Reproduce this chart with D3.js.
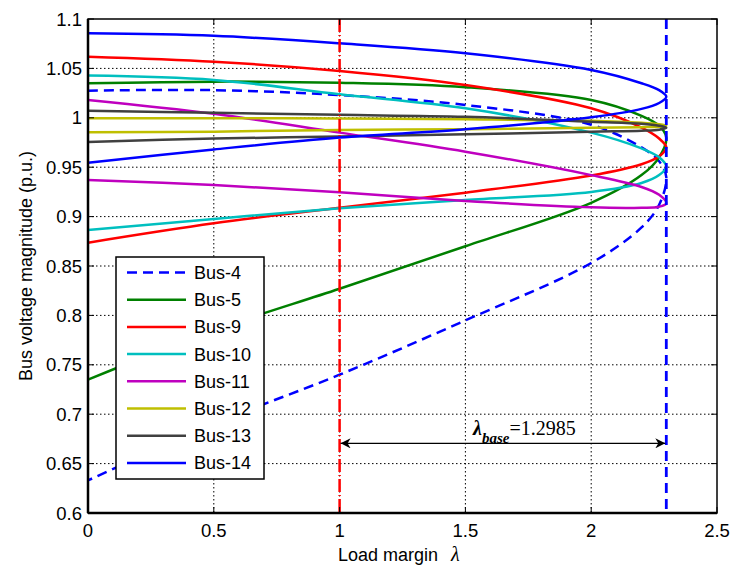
<!DOCTYPE html>
<html>
<head>
<script src="https://d3js.org/d3.v7.min.js"></script>
<style>
  body { margin: 0; background: #fff; }
  text { font-family: "Liberation Sans", Arial, sans-serif; fill: #000; }
  .grid line { stroke: #000; stroke-width: 1; stroke-dasharray: 1.5,2.5; }
  .bus { fill: none; stroke-width: 2.5; }
</style>
</head>
<body>
<script>
// lambda sample points on each branch, nose at lambdaMax
var lambdas = [0, 0.5, 1, 1.5, 2, 2.2, 2.27];
var lambdaMax = 2.2985;
var lambdaBase = 1.2985;

var busNames = ["Bus-4", "Bus-5", "Bus-9", "Bus-10", "Bus-11", "Bus-12", "Bus-13", "Bus-14"];
var busColors = ["#0000ff", "#008000", "#ff0000", "#00bfbf", "#bf00bf", "#bfbf00", "#404040", "#0000ff"];
var busDashed = [true, false, false, false, false, false, false, false];

var upper = [
  [1.0275, 1.028, 1.023, 1.013, 0.993, 0.970, 0.956],
  [1.0349, 1.0366, 1.0355, 1.031, 1.018, 1.002, 0.992],
  [1.0619, 1.0568, 1.0474, 1.0332, 1.0096, 0.990, 0.979],
  [1.0427, 1.0383, 1.0238, 1.0096, 0.985, 0.969, 0.960],
  [1.018, 1.004, 0.985, 0.9657, 0.942, 0.930, 0.922],
  [0.9995, 0.9995, 0.9993, 0.9985, 0.997, 0.995, 0.9935],
  [1.0072, 1.005, 1.003, 1.001, 0.996, 0.994, 0.992],
  [1.0855, 1.083, 1.0754, 1.0653, 1.0484, 1.035, 1.028]
];
var nose = [0.940, 0.980, 0.970, 0.9505, 0.9134, 0.992, 0.990, 1.0214];
var lower = [
  [0.633, 0.690, 0.740, 0.795, 0.853, 0.889, 0.912],
  [0.735, 0.785, 0.827, 0.870, 0.914, 0.942, 0.960],
  [0.8736, 0.8932, 0.909, 0.9242, 0.9416, 0.953, 0.961],
  [0.8864, 0.8976, 0.9084, 0.9168, 0.925, 0.934, 0.942],
  [0.937, 0.932, 0.9246, 0.9158, 0.9094, 0.909, 0.910],
  [0.9853, 0.986, 0.9877, 0.9884, 0.990, 0.9905, 0.991],
  [0.9755, 0.979, 0.981, 0.9833, 0.986, 0.987, 0.988],
  [0.9546, 0.968, 0.980, 0.9884, 1.0005, 1.009, 1.015]
];

var xTicks = [0, 0.5, 1, 1.5, 2, 2.5];
var yTicks = [0.6, 0.65, 0.7, 0.75, 0.8, 0.85, 0.9, 0.95, 1, 1.05, 1.1];

var margin = {left: 88, top: 19};
var width = 629, height = 494;

var svg = d3.select("body").append("svg").attr("width", 730).attr("height", 568);
var g = svg.append("g").attr("transform", "translate(" + margin.left + "," + margin.top + ")");

var x = d3.scaleLinear().domain([0, 2.5]).range([0, width]);
var y = d3.scaleLinear().domain([0.6, 1.1]).range([height, 0]);

// grid
var grid = g.append("g").attr("class", "grid");
grid.selectAll(".gx").data(xTicks.slice(1, -1)).enter().append("line")
  .attr("x1", d => x(d)).attr("x2", d => x(d)).attr("y1", 0).attr("y2", height);
grid.selectAll(".gy").data(yTicks.slice(1, -1)).enter().append("line")
  .attr("y1", d => y(d)).attr("y2", d => y(d)).attr("x1", 0).attr("x2", width);

// curves
var line = d3.line().x(d => x(d[0])).y(d => y(d[1])).curve(d3.curveCatmullRom.alpha(0.5));
busNames.forEach(function(name, i) {
  var pts = lambdas.map((l, j) => [l, upper[i][j]]);
  pts.push([lambdaMax, nose[i]]);
  for (var j = lambdas.length - 1; j >= 0; j--) pts.push([lambdas[j], lower[i][j]]);
  g.append("path").attr("class", "bus").attr("d", line(pts))
    .attr("stroke", busColors[i])
    .attr("stroke-dasharray", busDashed[i] ? "10,6" : null);
});

// vertical markers
g.append("line").attr("x1", x(1)).attr("x2", x(1)).attr("y1", 0).attr("y2", height)
  .attr("stroke", "#ff0000").attr("stroke-width", 2.5).attr("stroke-dasharray", "13,3,1,3");
g.append("line").attr("x1", x(lambdaMax)).attr("x2", x(lambdaMax)).attr("y1", 0).attr("y2", height)
  .attr("stroke", "#0000ff").attr("stroke-width", 2.8).attr("stroke-dasharray", "10,6");

// double arrow
var defs = svg.append("defs");
defs.append("marker").attr("id", "ah").attr("viewBox", "0 0 10 10").attr("refX", 10).attr("refY", 5)
  .attr("markerWidth", 15).attr("markerHeight", 10).attr("markerUnits", "userSpaceOnUse")
  .attr("orient", "auto-start-reverse")
  .append("path").attr("d", "M0,0 L10,5 L0,10 L3,5 Z").attr("fill", "#000");
var ay = y(0.6705);
g.append("line").attr("x1", x(1) + 1).attr("x2", x(lambdaMax) - 1).attr("y1", ay).attr("y2", ay)
  .attr("stroke", "#000").attr("stroke-width", 1.2)
  .attr("marker-start", "url(#ah)").attr("marker-end", "url(#ah)");
var lab = svg.append("text").attr("x", 473).attr("y", margin.top + ay - 8)
  .style("font-family", "'Liberation Serif', 'Times New Roman', serif")
  .style("font-size", "20px");
lab.append("tspan").text("\u03bb").style("font-weight", "bold").style("font-style", "italic");
lab.append("tspan").text("base").attr("dy", 8).style("font-size", "15px")
  .style("font-weight", "bold").style("font-style", "italic");
lab.append("tspan").text("=" + lambdaBase).attr("dy", -8);

// axes box with inward ticks
var axisG = g.append("g");
axisG.append("rect").attr("x", 0).attr("y", 0).attr("width", width).attr("height", height)
  .attr("fill", "none").attr("stroke", "#000").attr("stroke-width", 1.5);
axisG.append("line").attr("x1", 0).attr("x2", 0).attr("y1", 0).attr("y2", height).attr("stroke", "#000").attr("stroke-width", 2.5);
axisG.append("line").attr("x1", 0).attr("x2", width).attr("y1", height).attr("y2", height).attr("stroke", "#000").attr("stroke-width", 2.5);
xTicks.forEach(function(t) {
  axisG.append("line").attr("x1", x(t)).attr("x2", x(t)).attr("y1", height).attr("y2", height - 6).attr("stroke", "#000");
  axisG.append("line").attr("x1", x(t)).attr("x2", x(t)).attr("y1", 0).attr("y2", 6).attr("stroke", "#000");
  axisG.append("text").attr("x", x(t)).attr("y", height + 24).attr("text-anchor", "middle")
    .style("font-size", "18.5px").text(t);
});
yTicks.forEach(function(t) {
  axisG.append("line").attr("x1", 0).attr("x2", 6).attr("y1", y(t)).attr("y2", y(t)).attr("stroke", "#000");
  axisG.append("line").attr("x1", width).attr("x2", width - 6).attr("y1", y(t)).attr("y2", y(t)).attr("stroke", "#000");
  axisG.append("text").attr("x", -6).attr("y", y(t)).attr("dy", "0.36em").attr("text-anchor", "end")
    .style("font-size", "18.5px").text(t);
});

// axis labels
var xl = svg.append("text").attr("x", 338).attr("y", 561).style("font-size", "18px");
xl.append("tspan").text("Load margin");
xl.append("tspan").attr("x", 451).text("\u03bb").style("font-family", "'Liberation Serif', serif")
  .style("font-style", "italic").style("font-size", "20px");
svg.append("text").attr("transform", "translate(32," + (margin.top + height / 2) + ") rotate(-90)")
  .attr("text-anchor", "middle").style("font-size", "18px").text("Bus voltage magnitude (p.u.)");

// legend
var leg = g.append("g").attr("transform", "translate(" + (116 - margin.left) + "," + (257 - margin.top) + ")");
leg.append("rect").attr("width", 148).attr("height", 222).attr("fill", "#fff").attr("stroke", "#000").attr("stroke-width", 1.5);
busNames.forEach(function(name, i) {
  var ly = 15.5 + i * 27.2;
  leg.append("line").attr("x1", 11).attr("x2", 70).attr("y1", ly).attr("y2", ly)
    .attr("stroke", busColors[i]).attr("stroke-width", 2.5)
    .attr("stroke-dasharray", busDashed[i] ? "10,6" : null);
  leg.append("text").attr("x", 78).attr("y", ly).attr("dy", "0.36em").style("font-size", "18px").text(name);
});
</script>
</body>
</html>
